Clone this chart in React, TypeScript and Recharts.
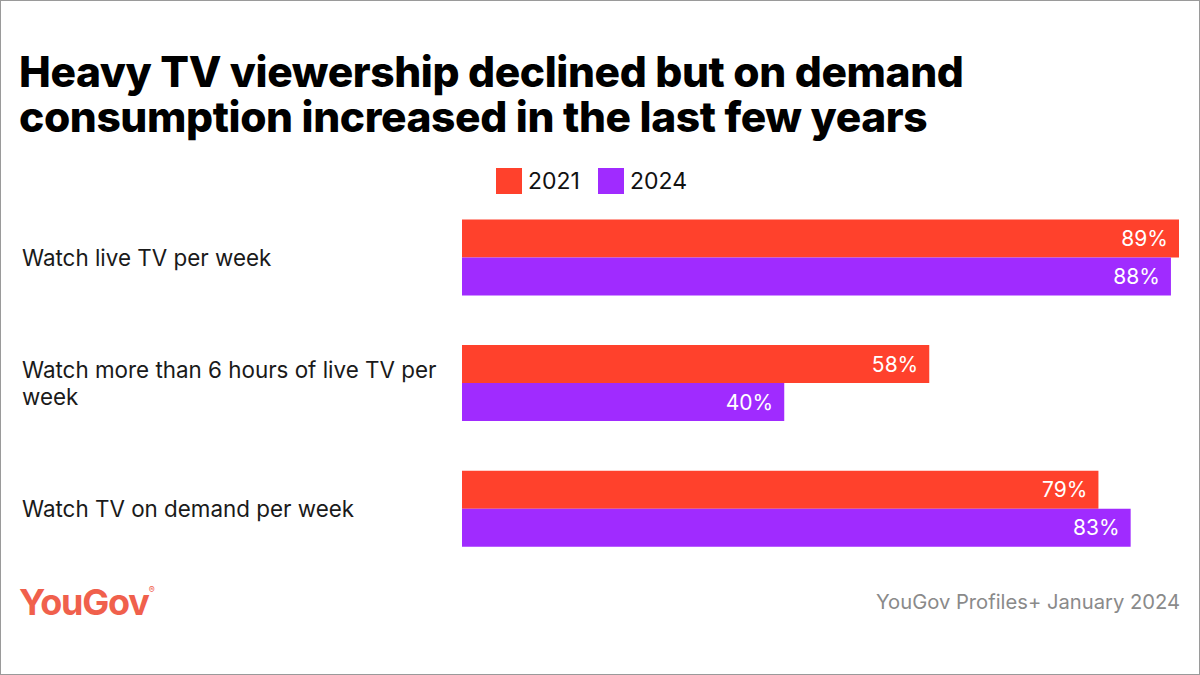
import { BarChart, Bar, XAxis, YAxis, Legend, LabelList } from "recharts";

const categories = [
  "Watch live TV per week",
  "Watch more than 6 hours of live TV per week",
  "Watch TV on demand per week",
];
const values2021 = [89, 58, 79];
const values2024 = [88, 40, 83];
const seriesNames = ["2021", "2024"];

const RED = "#ff412c";
const PURPLE = "#a02bff";
const FONT = "Inter, 'Noto Sans', sans-serif";

const data = categories.map((category, i) => ({
  category,
  y2021: values2021[i],
  y2024: values2024[i],
}));

let measureCtx: CanvasRenderingContext2D | null = null;
function wrapText(text: string, maxWidth: number, font: string) {
  if (!measureCtx) measureCtx = document.createElement("canvas").getContext("2d");
  const ctx = measureCtx!;
  ctx.font = font;
  const words = text.split(" ");
  const lines: string[] = [];
  let cur = "";
  for (const w of words) {
    const next = cur ? cur + " " + w : w;
    if (cur && ctx.measureText(next).width > maxWidth) {
      lines.push(cur);
      cur = w;
    } else {
      cur = next;
    }
  }
  if (cur) lines.push(cur);
  return lines;
}

function CategoryTick(props: any) {
  const { y, payload } = props;
  const lines = wrapText(String(payload.value), 425, `22.4px Inter`);
  const lh = 27;
  const y0 = y - ((lines.length - 1) * lh) / 2;
  return (
    <text x={22} y={y0} fill="#1a1a1a" fontSize={22.4} fontFamily={FONT} textAnchor="start">
      {lines.map((l, i) => (
        <tspan key={i} x={22} dy={i === 0 ? "0.35em" : lh}>
          {l}
        </tspan>
      ))}
    </text>
  );
}

function LegendContent() {
  const colors = [RED, PURPLE];
  return (
    <div style={{ display: "flex", alignItems: "center", fontFamily: FONT }}>
      {seriesNames.map((name, i) => (
        <div key={name} style={{ display: "flex", alignItems: "center", marginRight: 18 }}>
          <div style={{ width: 26, height: 26, background: colors[i], marginRight: 6 }} />
          <span style={{ fontSize: 23, color: "#111" }}>{name}</span>
        </div>
      ))}
    </div>
  );
}

export default function App() {
  return (
    <div
      style={{
        position: "absolute",
        left: 0,
        top: 0,
        width: 1200,
        height: 675,
        background: "#fff",
        overflow: "hidden",
      }}
    >
      <div
        style={{
          position: "absolute",
          left: 19,
          top: 49,
          width: 960,
          fontFamily: FONT,
          fontWeight: 800,
          fontSize: 42.5,
          lineHeight: "45px",
          color: "#000",
          letterSpacing: -0.4,
        }}
      >
        Heavy TV viewership declined but on demand consumption increased in the last few years
      </div>

      <BarChart
        width={1200}
        height={675}
        data={data}
        layout="vertical"
        margin={{ top: 195, right: 21, bottom: 103, left: 0 }}
        barGap={0}
        barCategoryGap="19.4%"
      >
        <XAxis type="number" hide domain={[0, 89]} />
        <YAxis
          type="category"
          dataKey="category"
          width={462}
          axisLine={false}
          tickLine={false}
          tick={<CategoryTick />}
        />
        <Legend
          layout="horizontal"
          verticalAlign="middle"
          align="center"
          content={<LegendContent />}
          wrapperStyle={{ top: 167, left: 496, width: "auto" }}
        />
        <Bar dataKey="y2021" name="2021" fill={RED} isAnimationActive={false}>
          <LabelList
            dataKey="y2021"
            position="insideRight"
            offset={11}
            fill="#fff"
            fontSize={21}
            fontFamily={FONT}
            formatter={(v: any) => `${v}%`}
          />
        </Bar>
        <Bar dataKey="y2024" name="2024" fill={PURPLE} isAnimationActive={false}>
          <LabelList
            dataKey="y2024"
            position="insideRight"
            offset={11}
            fill="#fff"
            fontSize={21}
            fontFamily={FONT}
            formatter={(v: any) => `${v}%`}
          />
        </Bar>
      </BarChart>

      <div
        style={{
          position: "absolute",
          left: 19,
          top: 580,
          fontFamily: FONT,
          fontWeight: 700,
          fontSize: 36,
          letterSpacing: -1.2,
          color: "#f0604c",
        }}
      >
        YouGov<sup style={{ fontSize: 9, fontWeight: 400, verticalAlign: 22 }}>®</sup>
      </div>
      <div
        style={{
          position: "absolute",
          right: 20,
          top: 589,
          fontFamily: FONT,
          fontSize: 20.2,
          color: "#8a8a8a",
        }}
      >
        YouGov Profiles+ January 2024
      </div>

      <div
        style={{
          position: "absolute",
          inset: 0,
          border: "1px solid #9a9a9a",
          boxSizing: "border-box",
          pointerEvents: "none",
        }}
      />
    </div>
  );
}
